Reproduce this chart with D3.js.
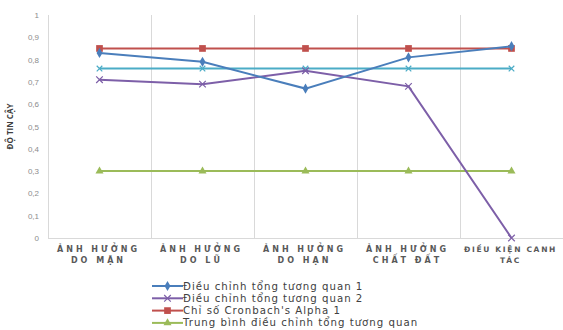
<!DOCTYPE html>
<html>
<head>
<meta charset="utf-8">
<script src="https://cdn.jsdelivr.net/npm/d3@7"></script>
<style>
  body { margin: 0; background: #fff; }
  svg { font-family: "Open Sans", "DejaVu Sans", sans-serif; }
</style>
</head>
<body>
<svg width="563" height="330"></svg>
<script>
const categories = [
    ["ẢNH HƯỞNG", "DO MẶN"],
    ["ẢNH HƯỞNG", "DO LŨ"],
    ["ẢNH HƯỞNG", "DO HẠN"],
    ["ẢNH HƯỞNG", "CHẤT ĐẤT"],
    ["ĐIỀU KIỆN CANH", "TÁC"]
];
const yTicks = [0, 0.1, 0.2, 0.3, 0.4, 0.5, 0.6, 0.7, 0.8, 0.9, 1];

const adjusted1 = [0.83, 0.79, 0.67, 0.81, 0.86];
const adjusted2 = [0.71, 0.69, 0.75, 0.68, 0];
const alpha1 = [0.85, 0.85, 0.85, 0.85, 0.85];
const alphaLine = [0.76, 0.76, 0.76, 0.76, 0.76];
const avgAdjusted = [0.3, 0.3, 0.3, 0.3, 0.3];

const series = [
    {name: "Điều chỉnh tổng tương quan 1", values: adjusted1, color: "#4a7ebb", marker: "diamond", legend: true},
    {name: "Điều chỉnh tổng tương quan 2", values: adjusted2, color: "#7d5fa8", marker: "cross", legend: true},
    {name: "Chỉ số Cronbach's Alpha 1", values: alpha1, color: "#c0504d", marker: "square", legend: true},
    {name: "Trung bình điều chỉnh tổng tương quan", values: avgAdjusted, color: "#9bbb59", marker: "triangle", legend: true},
    {name: "Alpha", values: alphaLine, color: "#4bacc6", marker: "star", legend: false}
];

let pLeft = 48, pRight = 563, pTop = 15, pBottom = 238;

let svg = d3.select("svg");

let xScale = d3.scaleBand()
    .domain(d3.range(categories.length))
    .range([pLeft, pRight]);

let yScale = d3.scaleLinear()
    .domain([0, 1])
    .range([pBottom, pTop]);

// vertical grid lines at band edges
svg.append("g")
    .selectAll("line")
    .data(d3.range(categories.length))
    .enter()
    .append("line")
    .attr("x1", i => xScale(i) + 0.5)
    .attr("x2", i => xScale(i) + 0.5)
    .attr("y1", pTop)
    .attr("y2", pBottom)
    .attr("stroke", "#d9d9d9")
    .attr("stroke-width", 1);

svg.append("line")
    .attr("x1", pLeft)
    .attr("x2", pRight)
    .attr("y1", pBottom + 0.5)
    .attr("y2", pBottom + 0.5)
    .attr("stroke", "#d9d9d9");

// y axis
let yAxis = d3.axisLeft(yScale)
    .tickValues(yTicks)
    .tickSize(0)
    .tickPadding(9)
    .tickFormat(d => d === 0 || d === 1 ? String(d) : d3.format(".1f")(d).replace(".", ","));
let yg = svg.append("g")
    .attr("transform", "translate(" + pLeft + ",0)")
    .call(yAxis);
yg.select(".domain").remove();
yg.selectAll("text").attr("fill", "#8c8c8c").style("font-size", "8px");

svg.append("text")
    .attr("transform", "translate(13," + ((pTop + pBottom) / 2) + ") rotate(-90)")
    .attr("text-anchor", "middle")
    .attr("fill", "#404040")
    .style("font-size", "8px")
    .style("font-weight", "bold")
    .text("ĐỘ TIN CẬY");

// x labels
let xl = svg.append("g")
    .selectAll("text")
    .data(categories)
    .enter()
    .append("text")
    .attr("text-anchor", "middle")
    .attr("fill", "#595959")
    .style("font-family", "'DejaVu Sans', sans-serif")
    .style("font-size", (d, i) => i === 4 ? "7.5px" : "8px")
    .style("font-weight", "bold")
    .style("letter-spacing", (d, i) => i === 4 ? "1.7px" : "3px");
xl.each(function(d, i) {
    let t = d3.select(this);
    d.forEach((line, k) => {
        t.append("tspan")
            .attr("x", xScale(i) + xScale.bandwidth() / 2 - 1)
            .attr("y", 252 + k * 10.5)
            .text(line);
    });
});

let sym = {
    diamond: d3.symbol().type(d3.symbolDiamond).size(30),
    cross: d3.symbol().type(d3.symbolX).size(30),
    square: d3.symbol().type(d3.symbolSquare).size(45),
    triangle: d3.symbol().type(d3.symbolTriangle).size(28),
    star: d3.symbol().type(d3.symbolX).size(22)
};

let line = d3.line()
    .x((v, i) => xScale(i) + xScale.bandwidth() / 2)
    .y(v => yScale(v));

let drawOrder = [4, 3, 2, 1, 0];
drawOrder.forEach(si => {
    let s = series[si];
    let g = svg.append("g");
    g.append("path")
        .attr("d", line(s.values))
        .attr("fill", "none")
        .attr("stroke", s.color)
        .attr("stroke-width", 2);
    g.selectAll("path.m")
        .data(s.values)
        .enter()
        .append("path")
        .attr("class", "m")
        .attr("d", sym[s.marker])
        .attr("transform", (v, i) => "translate(" + (xScale(i) + xScale.bandwidth() / 2) + "," + yScale(v) + ")")
        .attr("fill", s.color)
        .attr("stroke", s.color)
        .attr("stroke-width", s.marker === "cross" || s.marker === "star" ? 1.2 : 0);
});

// legend
let legendItems = series.filter(s => s.legend);
let lg = svg.append("g")
    .selectAll("g")
    .data(legendItems)
    .enter()
    .append("g")
    .attr("transform", (d, i) => "translate(152," + (286 + i * 12.3) + ")");
lg.append("line")
    .attr("x1", 0).attr("x2", 31)
    .attr("stroke", d => d.color)
    .attr("stroke-width", 2);
lg.append("path")
    .attr("d", d => sym[d.marker]())
    .attr("transform", "translate(15.5,0)")
    .attr("fill", d => d.color)
    .attr("stroke", d => d.color)
    .attr("stroke-width", d => d.marker === "cross" ? 1.2 : 0);
lg.append("text")
    .attr("x", 31)
    .attr("dy", "0.35em")
    .attr("fill", "#404040")
    .style("font-family", "'DejaVu Sans', sans-serif")
    .style("font-size", "10.2px")
    .style("letter-spacing", "1px")
    .text(d => d.name);
</script>
</body>
</html>
